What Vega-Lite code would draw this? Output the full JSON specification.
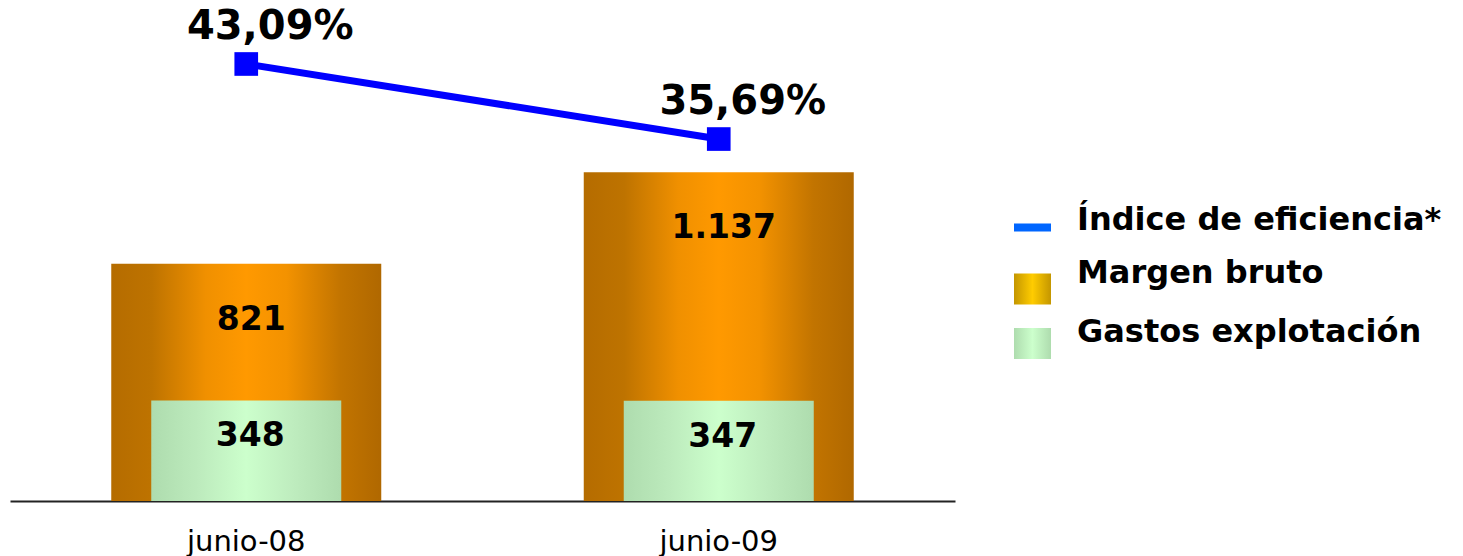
{
  "$schema": "https://vega.github.io/schema/vega-lite/v6.json",
  "width": 945,
  "height": 501,
  "autosize": {"type": "none"},
  "padding": {"left": 10, "top": 0, "right": 508, "bottom": 55},
  "background": "white",
  "config": {
    "view": {"stroke": null},
    "font": "DejaVu Sans"
  },
  "datasets": {
    "bars": [
      {"periodo": "junio-08", "margen": 821, "margen_txt": "821", "gastos": 348, "gastos_txt": "348"},
      {"periodo": "junio-09", "margen": 1137, "margen_txt": "1.137", "gastos": 347, "gastos_txt": "347"}
    ],
    "indice": [
      {"periodo": "junio-08", "serie": "Índice de eficiencia*", "valor": 43.09, "txt": "43,09%"},
      {"periodo": "junio-09", "serie": "Índice de eficiencia*", "valor": 35.69, "txt": "35,69%"}
    ]
  },
  "encoding": {
    "x": {
      "field": "periodo",
      "type": "nominal",
      "sort": null,
      "scale": {"paddingInner": 0, "paddingOuter": 0},
      "axis": {
        "title": null,
        "labelAngle": 0,
        "labelFont": "DejaVu Sans",
        "labelFontSize": 29,
        "labelColor": "#000000",
        "labelPadding": 26,
        "ticks": false,
        "domain": true,
        "domainColor": "#222222",
        "domainWidth": 2,
        "grid": false
      }
    }
  },
  "layer": [
    {
      "data": {"name": "bars"},
      "mark": {
        "type": "bar",
        "width": 270,
        "color": {
          "gradient": "linear", "x1": 0, "x2": 1, "y1": 0, "y2": 0,
          "stops": [
            {"offset": 0, "color": "#B56C00"},
            {"offset": 0.15, "color": "#BE7300"},
            {"offset": 0.35, "color": "#F09000"},
            {"offset": 0.5, "color": "#FF9900"},
            {"offset": 0.65, "color": "#F39200"},
            {"offset": 0.85, "color": "#C27400"},
            {"offset": 1, "color": "#B06800"}
          ]
        }
      },
      "encoding": {
        "y": {"field": "margen", "type": "quantitative", "scale": {"domain": [0, 1733], "nice": false, "zero": true}, "axis": null}
      }
    },
    {
      "data": {"name": "bars"},
      "mark": {
        "type": "bar",
        "width": 190,
        "color": {
          "gradient": "linear", "x1": 0, "x2": 1, "y1": 0, "y2": 0,
          "stops": [
            {"offset": 0, "color": "#AEDCAE"},
            {"offset": 0.25, "color": "#BDEBBD"},
            {"offset": 0.5, "color": "#CCFFCC"},
            {"offset": 0.75, "color": "#BEECBE"},
            {"offset": 1, "color": "#AEDCAE"}
          ]
        }
      },
      "encoding": {
        "y": {"field": "gastos", "type": "quantitative", "scale": {"domain": [0, 1733], "nice": false, "zero": true}, "axis": null}
      }
    },
    {
      "data": {"name": "bars"},
      "mark": {"type": "text", "font": "DejaVu Sans", "fontWeight": "bold", "fontSize": 33, "color": "#000000", "baseline": "middle", "dx": 5, "dy": 56},
      "encoding": {
        "y": {"field": "margen", "type": "quantitative", "scale": {"domain": [0, 1733], "nice": false, "zero": true}, "axis": null},
        "text": {"field": "margen_txt"}
      }
    },
    {
      "data": {"name": "bars"},
      "mark": {"type": "text", "font": "DejaVu Sans", "fontWeight": "bold", "fontSize": 33, "color": "#000000", "baseline": "middle", "dx": 4, "dy": 36},
      "encoding": {
        "y": {"field": "gastos", "type": "quantitative", "scale": {"domain": [0, 1733], "nice": false, "zero": true}, "axis": null},
        "text": {"field": "gastos_txt"}
      }
    },
    {
      "data": {"name": "indice"},
      "mark": {"type": "line", "strokeWidth": 7, "color": "#0000FF"},
      "encoding": {
        "y": {"field": "valor", "type": "quantitative", "scale": {"domain": [0, 49.4], "nice": false, "zero": true}, "axis": null},
        "color": {
          "field": "serie",
          "type": "nominal",
          "scale": {
            "domain": ["Índice de eficiencia*", "Margen bruto", "Gastos explotación"],
            "range": ["#0000FF", "#FFCC00", "#CCFFCC"]
          },
          "legend": {
            "title": null,
            "orient": "none",
            "legendX": 1004,
            "legendY": 209,
            "padding": 0,
            "symbolType": "M-1,-1.6M-1,1.6M-1,-0.84H1V0.84H-1Z",
            "symbolSize": 1369,
            "symbolStrokeWidth": 0,
            "labelFont": "DejaVu Sans",
            "labelFontWeight": "bold",
            "labelFontSize": 32,
            "labelColor": "#000000",
            "labelOffset": 26,
            "labelLimit": 500,
            "rowPadding": -3,
            "encode": {
              "symbols": {
                "update": {
                  "shape": [
                    {"test": "datum.value === 'Índice de eficiencia*'", "value": "M-1,-1.6M-1,1.6M-1,-0.22H1V0.22H-1Z"},
                    {"test": "datum.value === 'Margen bruto'", "value": "M-1,-1.6M-1,1.6M-1,-0.65H1V1.03H-1Z"},
                    {"value": "M-1,-1.6M-1,1.6M-1,-0.84H1V0.84H-1Z"}
                  ],
                  "fill": [
                    {"test": "datum.value === 'Índice de eficiencia*'", "value": "#0066FF"},
                    {"test": "datum.value === 'Margen bruto'", "value": {"gradient": "linear", "x1": 0, "x2": 1, "y1": 0, "y2": 0, "stops": [{"offset": 0, "color": "#C49600"}, {"offset": 0.5, "color": "#FFCC00"}, {"offset": 1, "color": "#C49600"}]}},
                    {"value": {"gradient": "linear", "x1": 0, "x2": 1, "y1": 0, "y2": 0, "stops": [{"offset": 0, "color": "#AEDCAE"}, {"offset": 0.5, "color": "#CCFFCC"}, {"offset": 1, "color": "#AEDCAE"}]}}
                  ],
                  "fillOpacity": {"value": 1},
                  "strokeWidth": {"value": 0},
                  "stroke": {"value": "transparent"}
                }
              },
              "labels": {
                "update": {
                  "dy": [
                    {"test": "datum.value === 'Índice de eficiencia*'", "value": -7.5},
                    {"test": "datum.value === 'Margen bruto'", "value": -13},
                    {"value": -11.5}
                  ]
                }
              }
            }
          }
        }
      }
    },
    {
      "data": {"name": "indice"},
      "mark": {"type": "square", "size": 560, "color": "#0000FF", "filled": true, "opacity": 1},
      "encoding": {
        "y": {"field": "valor", "type": "quantitative", "scale": {"domain": [0, 49.4], "nice": false, "zero": true}, "axis": null}
      }
    },
    {
      "data": {"name": "indice"},
      "mark": {"type": "text", "font": "DejaVu Sans", "fontWeight": "bold", "fontSize": 40, "color": "#000000", "baseline": "middle", "dx": 24, "dy": -37},
      "encoding": {
        "y": {"field": "valor", "type": "quantitative", "scale": {"domain": [0, 49.4], "nice": false, "zero": true}, "axis": null},
        "text": {"field": "txt"}
      }
    }
  ],
  "resolve": {"scale": {"y": "independent"}}
}
